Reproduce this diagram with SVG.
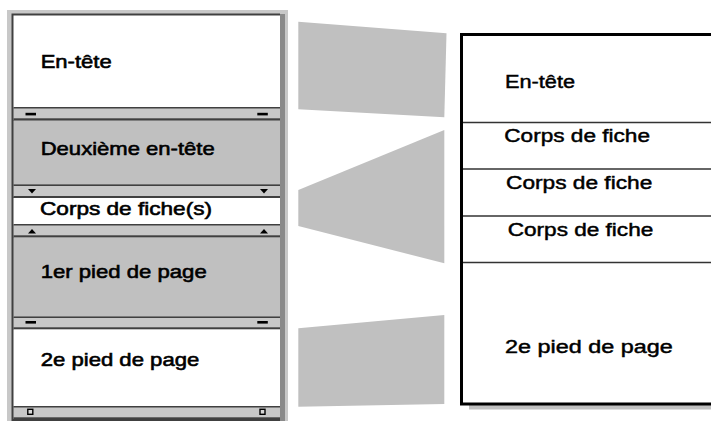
<svg xmlns="http://www.w3.org/2000/svg" width="711" height="421" viewBox="0 0 711 421">
<style>
  .lt { font-family: "Liberation Sans", Arial, sans-serif; font-size: 19px; fill: #000; stroke: #000; stroke-width: 0.6px; }
  .rt { font-family: "Liberation Sans", Arial, sans-serif; font-size: 18px; fill: #000; stroke: #000; stroke-width: 0.45px; }
  .band { fill: #c8c8c8; }
  .dl { fill: #404040; }
  .sec-w { fill: #ffffff; }
  .sec-g { fill: #c0c0c0; }
  .conn { fill: #c0c0c0; }
  .sep { stroke: #333; stroke-width: 1.3; }
  .mark { fill: #000; }
</style>
<rect x="0" y="0" width="711" height="421" fill="#ffffff"/>

<!-- Left panel frame -->
<g id="left-frame">
  <rect x="7" y="10" width="281" height="411" fill="#c8c8c8"/>
  <rect x="280" y="14" width="5" height="407" fill="#8a8a8a"/>
  <rect x="11.5" y="13.5" width="268.5" height="407.5" fill="#404040"/>
</g>

<g id="entete-left">
  <rect class="sec-w" x="13.5" y="15.5" width="266.5" height="92"/>
  <text class="lt" x="40.7" y="68" textLength="71" lengthAdjust="spacingAndGlyphs">En-tête</text>
</g>
<g id="band1">
  <rect class="band" x="13.5" y="107" width="266.5" height="13"/>
  <rect class="dl" x="13.5" y="107" width="266.5" height="1.5"/>
  <rect class="dl" x="13.5" y="118.3" width="266.5" height="2.2"/>
  <rect class="mark" x="25.5" y="112.8" width="10.5" height="2.6"/>
  <rect class="mark" x="257.3" y="112.8" width="10.5" height="2.6"/>
</g>
<g id="deuxieme-entete">
  <rect class="sec-g" x="13.5" y="120.5" width="266.5" height="64"/>
  <text class="lt" x="40.7" y="155" textLength="174" lengthAdjust="spacingAndGlyphs">Deuxième en-tête</text>
</g>
<g id="band2">
  <rect class="band" x="13.5" y="184.5" width="266.5" height="13"/>
  <rect class="dl" x="13.5" y="184.5" width="266.5" height="1.5"/>
  <rect class="dl" x="13.5" y="196" width="266.5" height="2"/>
  <polygon class="mark" points="28,189 36,189 32,193.5"/>
  <polygon class="mark" points="260,189 268,189 264,193.5"/>
</g>
<g id="corps-left">
  <rect class="sec-w" x="13.5" y="198" width="266.5" height="26.5"/>
  <text class="lt" x="40" y="215" textLength="172" lengthAdjust="spacingAndGlyphs">Corps de fiche(s)</text>
</g>
<g id="band3">
  <rect class="band" x="13.5" y="224" width="266.5" height="13"/>
  <rect class="dl" x="13.5" y="224" width="266.5" height="1.5"/>
  <rect class="dl" x="13.5" y="235.3" width="266.5" height="2"/>
  <polygon class="mark" points="28,233.5 36,233.5 32,229"/>
  <polygon class="mark" points="260,233.5 268,233.5 264,229"/>
</g>
<g id="premier-pied">
  <rect class="sec-g" x="13.5" y="237.3" width="266.5" height="79.5"/>
  <text class="lt" x="40.7" y="277.5" textLength="166" lengthAdjust="spacingAndGlyphs">1er pied de page</text>
</g>
<g id="band4">
  <rect class="band" x="13.5" y="316.5" width="266.5" height="12.5"/>
  <rect class="dl" x="13.5" y="316.5" width="266.5" height="1.5"/>
  <rect class="dl" x="13.5" y="327.3" width="266.5" height="2"/>
  <rect class="mark" x="25.5" y="321" width="10.5" height="2.6"/>
  <rect class="mark" x="257.3" y="321" width="10.5" height="2.6"/>
</g>
<g id="deuxieme-pied-left">
  <rect class="sec-w" x="13.5" y="329.3" width="266.5" height="76.7"/>
  <text class="lt" x="40.7" y="365.5" textLength="158.6" lengthAdjust="spacingAndGlyphs">2e pied de page</text>
</g>
<g id="band5">
  <rect class="band" x="13.5" y="406" width="266.5" height="13"/>
  <rect class="dl" x="13.5" y="406" width="266.5" height="1.5"/>
  <rect class="dl" x="13.5" y="417.3" width="266.5" height="2"/>
  <rect x="27.8" y="409.3" width="5" height="5" fill="#d8d8d8" stroke="#000" stroke-width="1.4"/>
  <rect x="260" y="409.3" width="5" height="5" fill="#d8d8d8" stroke="#000" stroke-width="1.4"/>
</g>

<!-- Connectors (grey trapezoids) -->
<g id="connectors">
  <polygon class="conn" points="298.3,21.7 446.5,33.3 444.3,117.3 298.3,109.3"/>
  <polygon class="conn" points="298.3,190 444.3,130 444.3,263.3 298.3,226"/>
  <polygon class="conn" points="298.3,328.3 444.3,315 444.3,404 298.3,406.7"/>
</g>

<!-- Right panel -->
<g id="right-frame">
  <rect x="469" y="405" width="250" height="4.5" fill="#c0c0c0"/>
  <rect x="461.5" y="34.5" width="260" height="369.5" fill="#ffffff" stroke="#000" stroke-width="3"/>
  <line class="sep" x1="463" y1="122.5" x2="711" y2="122.5"/>
  <line class="sep" x1="463" y1="169" x2="711" y2="169"/>
  <line class="sep" x1="463" y1="216" x2="711" y2="216"/>
  <line class="sep" x1="463" y1="262.5" x2="711" y2="262.5"/>
</g>
<g id="entete-right">
  <text class="rt" x="505" y="88.3" textLength="70" lengthAdjust="spacingAndGlyphs">En-tête</text>
</g>
<g id="corps-right-1">
  <text class="rt" x="504.3" y="141.7" textLength="145.7" lengthAdjust="spacingAndGlyphs">Corps de fiche</text>
</g>
<g id="corps-right-2">
  <text class="rt" x="506" y="189" textLength="146.3" lengthAdjust="spacingAndGlyphs">Corps de fiche</text>
</g>
<g id="corps-right-3">
  <text class="rt" x="507.7" y="236" textLength="145.6" lengthAdjust="spacingAndGlyphs">Corps de fiche</text>
</g>
<g id="deuxieme-pied-right">
  <text class="rt" x="505" y="352.7" textLength="167.7" lengthAdjust="spacingAndGlyphs">2e pied de page</text>
</g>
</svg>
